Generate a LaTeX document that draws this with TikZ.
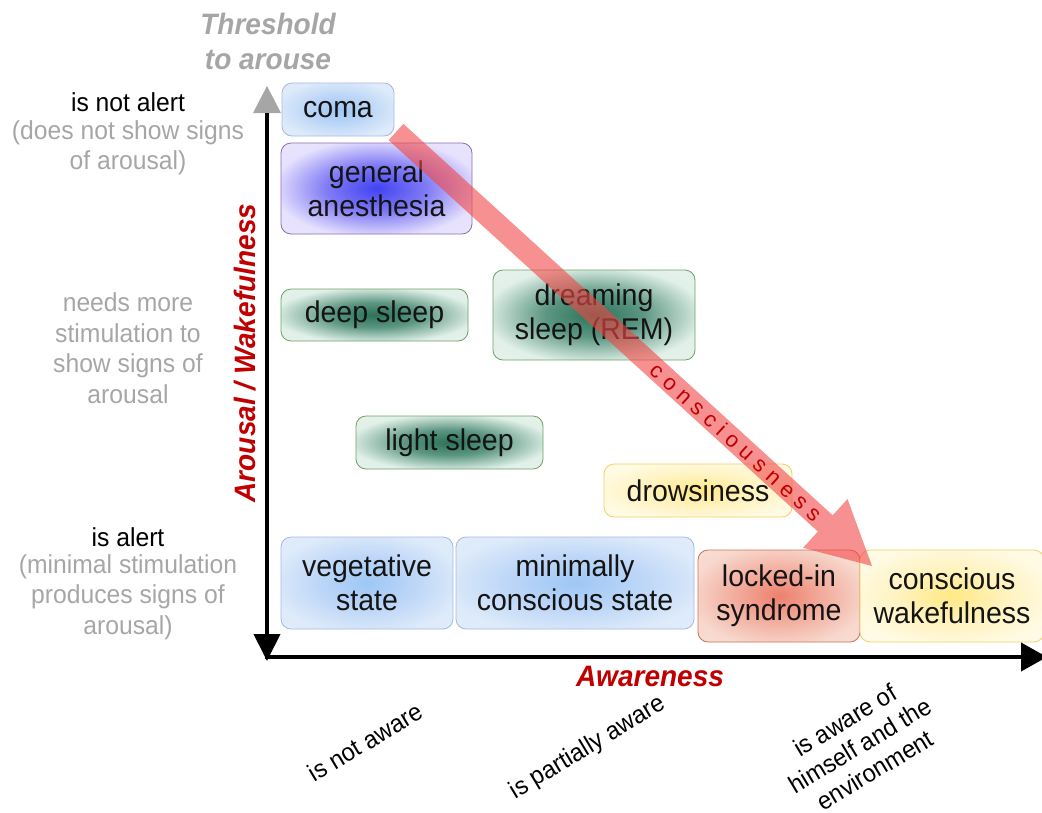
\documentclass[tikz,border=0pt]{standalone}
\usepackage{fontspec}
\setmainfont{Liberation Sans}[FakeStretch=0.95]
\newfontfamily\spacedfont{Liberation Sans}[LetterSpace=30]
\usetikzlibrary{calc,arrows.meta}

\definecolor{dred}{RGB}{192,0,0}
\definecolor{lgray}{RGB}{166,166,166}
\definecolor{arrowred}{RGB}{242,70,70}
\definecolor{bBlue}{RGB}{166,184,218}
\definecolor{bPurple}{RGB}{140,108,178}
\definecolor{bGreen}{RGB}{110,160,100}
\definecolor{bYellow}{RGB}{240,208,100}
\definecolor{bRed}{RGB}{200,115,82}

\pgfdeclareradialshading{shBlue}{\pgfpointorigin}{rgb(0bp)=(0.62,0.78,0.96); rgb(14bp)=(0.74,0.84,0.97); rgb(28bp)=(0.87,0.92,0.98); rgb(50bp)=(0.90,0.94,0.99)}
\pgfdeclareradialshading{shPurple}{\pgfpointorigin}{rgb(0bp)=(0.26,0.26,0.95); rgb(13bp)=(0.50,0.48,0.96); rgb(27bp)=(0.90,0.88,0.99); rgb(50bp)=(0.95,0.94,1.0)}
\pgfdeclareradialshading{shGreen}{\pgfpointorigin}{rgb(0bp)=(0.17,0.45,0.35); rgb(12bp)=(0.36,0.59,0.51); rgb(27bp)=(0.88,0.94,0.91); rgb(50bp)=(0.95,0.97,0.96)}
\pgfdeclareradialshading{shYellow}{\pgfpointorigin}{rgb(0bp)=(1.0,0.91,0.52); rgb(14bp)=(1.0,0.95,0.74); rgb(28bp)=(1.0,0.98,0.89); rgb(50bp)=(1.0,0.99,0.93)}
\pgfdeclareradialshading{shRed}{\pgfpointorigin}{rgb(0bp)=(0.93,0.50,0.43); rgb(14bp)=(0.95,0.68,0.62); rgb(28bp)=(0.97,0.85,0.81); rgb(50bp)=(0.98,0.89,0.86)}

\tikzset{
  box/.style={shade, draw, rounded corners=10pt, line width=0.8pt, align=center,
    inner sep=0pt, text=black!92, font=\fontsize{30}{34}\selectfont},
  bluebox/.style={box, shading=shBlue, draw=bBlue},
  purplebox/.style={box, shading=shPurple, draw=bPurple},
  greenbox/.style={box, shading=shGreen, draw=bGreen},
  yellowbox/.style={box, shading=shYellow, draw=bYellow},
  redbox/.style={box, shading=shRed, draw=bRed},
  lbl/.style={align=center, inner sep=0pt, font=\fontsize{26}{30.5}\selectfont},
  sublbl/.style={lbl, text=lgray},
  botlbl/.style={align=center, inner sep=0pt, rotate=31, font=\fontsize{25}{29}\selectfont},
  axlbl/.style={align=center, inner sep=0pt, font=\bfseries\itshape\fontsize{29.5}{35}\selectfont},
  axisline/.style={line width=4pt}
}

\begin{document}
\begin{tikzpicture}[x=1pt, y=-1pt]
\useasboundingbox (0,0) rectangle (1042,812);

% boxes
\node[bluebox, minimum width=112pt, minimum height=53pt] (coma) at (338,109.5) {coma};
\node[purplebox, minimum width=191pt, minimum height=91pt] (anesth) at (376.5,188.5) {general\\anesthesia};
\node[greenbox, minimum width=187pt, minimum height=52pt] (deep) at (374.5,315) {deep sleep};
\node[greenbox, minimum width=202pt, minimum height=90pt] (dream) at (594,315) {dreaming\\sleep (REM)};
\node[greenbox, minimum width=187pt, minimum height=53pt] (light) at (449.5,442.5) {light sleep};
\node[yellowbox, minimum width=188pt, minimum height=53pt] (drows) at (698,490.5) {drowsiness};
\node[bluebox, minimum width=172pt, minimum height=92pt] (veg) at (367,583) {vegetative\\state};
\node[bluebox, minimum width=238pt, minimum height=92pt] (mcs) at (575,583) {minimally\\conscious state};
\node[redbox, minimum width=162pt, minimum height=92pt] (locked) at (779,596) {locked-in\\syndrome};
\node[yellowbox, minimum width=184pt, minimum height=92pt] (wake) at (952,596) {conscious\\wakefulness};

% axes
\coordinate (ytip) at (267,86);
\coordinate (ystart) at (267,113);
\coordinate (ybot) at (267,661);
\coordinate (xstart) at (265,657);
\coordinate (xend) at (1047,657);
\fill[lgray] (ytip) -- ($(ystart)+(14,0)$) -- ($(ystart)+(-14,0)$) -- cycle;
\draw[axisline, -{Triangle[width=26pt,length=27pt]}] (ystart) -- (ybot);
\draw[axisline, -{Triangle[width=28pt,length=26pt]}] (xstart) -- (xend);

% consciousness arrow
\coordinate (cstart) at (396,132);
\coordinate (ctip) at (872,566);
\coordinate (cbase) at ($(cstart)!581pt!(ctip)$);
\fill[arrowred, fill opacity=0.6]
  ($(cstart)!11pt!90:(ctip)$) -- ($(cbase)!11pt!90:(ctip)$) -- ($(cbase)!33pt!90:(ctip)$)
  -- (ctip) -- ($(cbase)!33pt!-90:(ctip)$) -- ($(cbase)!11pt!-90:(ctip)$)
  -- ($(cstart)!11pt!-90:(ctip)$) -- cycle;
\node[inner sep=0pt, text=dred, rotate=-42.4, font=\spacedfont\fontsize{22}{26}\selectfont] (cons) at (736,442) {consciousness};

% axis labels
\node[axlbl, text=lgray] (thresh) at (268,41.5) {Threshold\\to arouse};
\node[axlbl, text=dred, rotate=90] (arousal) at (245,353) {Arousal / Wakefulness};
\node[axlbl, text=dred] (awareness) at (650,676) {Awareness};

% left labels
\node[lbl] (notalert) at (128,102) {is not alert};
\node[sublbl] (notalertsub) at (128,148) {(does not show signs\\of arousal)};
\node[sublbl] (needs) at (128,348) {needs more\\stimulation to\\show signs of\\arousal};
\node[lbl] (alert) at (128,537) {is alert};
\node[sublbl] (alertsub) at (128,597) {(minimal stimulation\\produces signs of\\arousal)};

% bottom labels
\node[botlbl] (notaware) at (365,742) {is not aware};
\node[botlbl] (partaware) at (588,748) {is partially aware};
\node[botlbl] (fullaware) at (860,745) {is aware of\\himself and the\\environment};
\end{tikzpicture}
\end{document}
